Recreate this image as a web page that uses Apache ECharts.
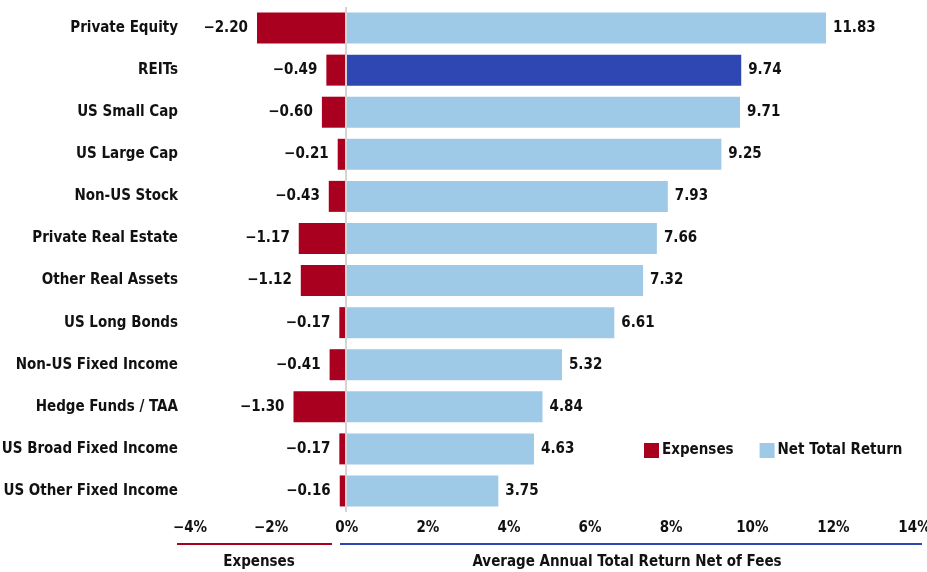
<!DOCTYPE html>
<html>
<head>
<meta charset="utf-8">
<script src="https://cdn.jsdelivr.net/npm/echarts@6/dist/echarts.min.js"></script>
<style>
html,body{margin:0;padding:0;background:#fff;}
#main{width:927px;height:572px;}
</style>
</head>
<body>
<div id="main"></div>
<script>
const categories = ['Private Equity','REITs','US Small Cap','US Large Cap','Non-US Stock','Private Real Estate','Other Real Assets','US Long Bonds','Non-US Fixed Income','Hedge Funds / TAA','US Broad Fixed Income','US Other Fixed Income'];
const expenses = [-2.20,-0.49,-0.60,-0.21,-0.43,-1.17,-1.12,-0.17,-0.41,-1.30,-0.17,-0.16];
const netReturn = [11.83,9.74,9.71,9.25,7.93,7.66,7.32,6.61,5.32,4.84,4.63,3.75];
const highlighted = 'REITs';
const xTickMin = -4, xTickMax = 14, xTickStep = 2;

const FONT = '"Liberation Sans Narrow", "Arial Narrow", "DejaVu Sans Condensed", sans-serif';
const RED = '#A8001E', LIGHT = '#9ECAE8', DARK = '#2F47B3';
const fmtVal = v => (v < 0 ? '\u2212' : '') + Math.abs(v).toFixed(2);
const txt = {fontFamily: FONT, fontWeight: 'bold', fontSize: 15, color: '#111'};

const chart = echarts.init(document.getElementById('main'), null, {renderer: 'canvas'});
chart.setOption({
  animation: false,
  grid: {left: 184, right: 13, top: 7, bottom: 60, containLabel: false, outerBoundsMode: 'none'},
  legend: {
    orient: 'horizontal', left: 639, top: 438, width: 300, itemWidth: 15, itemHeight: 15, itemGap: 26,
    textStyle: Object.assign({}, txt, {padding: [0,0,0,-2]}),
    data: [{name: 'Expenses', icon: 'rect'}, {name: 'Net Total Return', icon: 'rect'}]
  },
  xAxis: {
    type: 'value', min: xTickMin, max: xTickMax, interval: xTickStep,
    axisLine: {show: false}, axisTick: {show: false}, splitLine: {show: false},
    axisLabel: Object.assign({}, txt, {
      margin: 9,
      formatter: v => v < 0 ? '{neg|\u2212' + Math.abs(v) + '%}' : '{pos|' + v + '%}',
      rich: {
        neg: Object.assign({}, txt, {padding: [0, 0, 0, 12]}),
        pos: Object.assign({}, txt, {padding: [0, 0, 0, 1]})
      }
    })
  },
  yAxis: {
    type: 'category', data: categories, inverse: true,
    axisLine: {show: false}, axisTick: {show: false},
    axisLabel: Object.assign({}, txt, {margin: 6})
  },
  series: [
    {
      name: 'Expenses', type: 'bar', stack: 'a', barWidth: 31,
      itemStyle: {color: RED},
      label: Object.assign({}, txt, {show: true, position: 'left', distance: 9, formatter: p => fmtVal(p.value)}),
      data: expenses
    },
    {
      name: 'Net Total Return', type: 'bar', stack: 'a', barWidth: 31,
      itemStyle: {color: LIGHT},
      label: Object.assign({}, txt, {show: true, position: 'right', distance: 7, formatter: p => fmtVal(p.value)}),
      data: netReturn.map((v, i) => categories[i] === highlighted ? {value: v, itemStyle: {color: DARK}} : v),
      markLine: {
        silent: true, symbol: 'none', label: {show: false},
        lineStyle: {color: '#d4d4d4', width: 2, type: 'solid'},
        data: [{xAxis: 0}]
      }
    }
  ],
  graphic: [
    {type: 'line', shape: {x1: 177, y1: 544, x2: 332, y2: 544}, style: {stroke: RED, lineWidth: 2}},
    {type: 'line', shape: {x1: 340, y1: 544, x2: 922, y2: 544}, style: {stroke: DARK, lineWidth: 2}},
    {type: 'text', x: 259, y: 562, style: {text: 'Expenses', font: 'bold 15px ' + FONT, fill: '#111', textAlign: 'center', textVerticalAlign: 'middle'}},
    {type: 'text', x: 627, y: 562, style: {text: 'Average Annual Total Return Net of Fees', font: 'bold 15px ' + FONT, fill: '#111', textAlign: 'center', textVerticalAlign: 'middle'}}
  ]
});
</script>
</body>
</html>
